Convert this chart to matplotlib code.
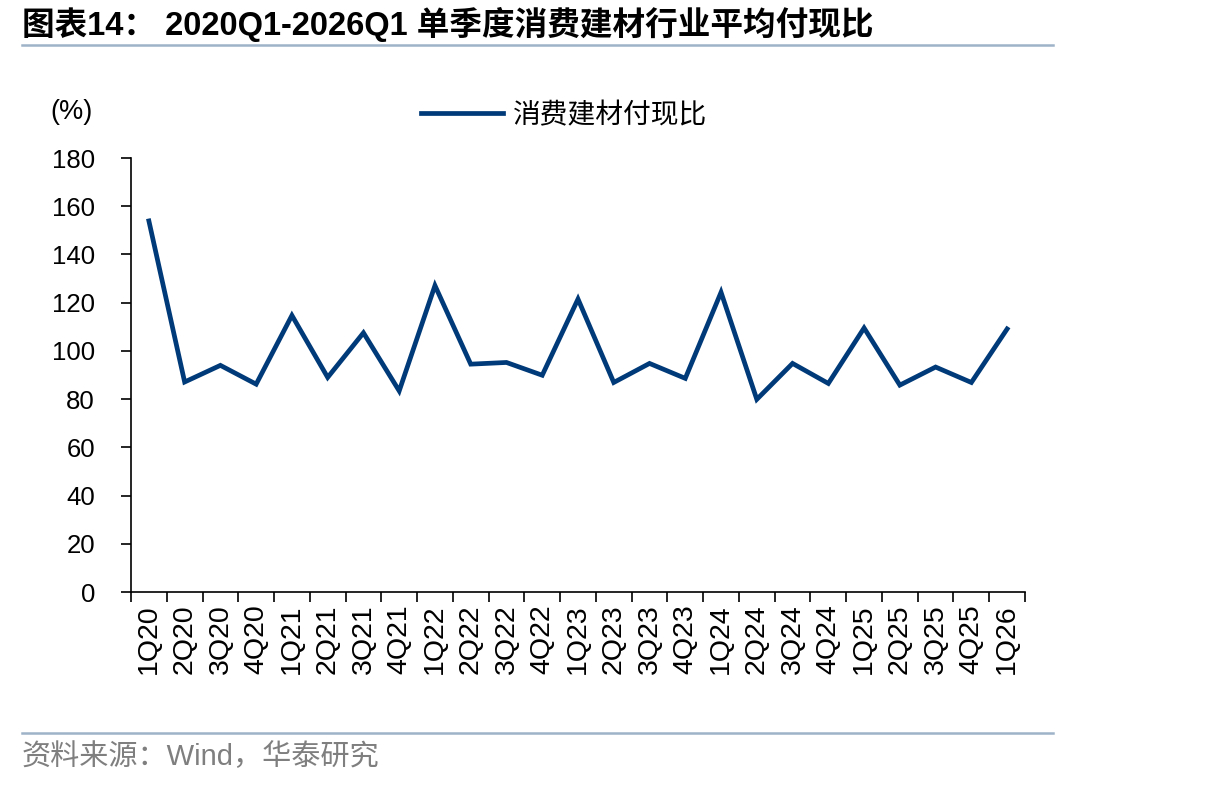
import matplotlib
matplotlib.use("Agg")
import matplotlib.pyplot as plt
import numpy as np

# 季度标签和付现比数据（%）
quarters = ["1Q20", "2Q20", "3Q20", "4Q20",
            "1Q21", "2Q21", "3Q21", "4Q21",
            "1Q22", "2Q22", "3Q22", "4Q22",
            "1Q23", "2Q23", "3Q23", "4Q23",
            "1Q24", "2Q24", "3Q24", "4Q24",
            "1Q25", "2Q25", "3Q25", "4Q25",
            "1Q26"]
cash_ratio = [153.9, 87.1, 94.0, 86.2,
              114.7, 89.0, 107.5, 83.4,
              127.1, 94.5, 95.2, 89.9,
              121.5, 86.9, 94.8, 88.6,
              124.3, 79.9, 94.8, 86.5,
              109.5, 85.8, 93.3, 86.9,
              109.1]
y_ticks = [0, 20, 40, 60, 80, 100, 120, 140, 160, 180]

plt.rcParams['font.family'] = ['Liberation Sans', 'Noto Sans CJK SC', 'DejaVu Sans']

line_color = '#003a78'
rule_color = '#9fb3c8'

fig = plt.figure(figsize=(12.06, 7.87), dpi=100)
ax = fig.add_axes([131 / 1206, 1 - 592 / 787, (1025 - 131) / 1206, (592 - 158) / 787])

x = np.arange(len(quarters))
ax.plot(x, cash_ratio, color=line_color, lw=3.4, solid_joinstyle='miter', label='消费建材付现比')

ax.set_xlim(-0.5, len(quarters) - 0.5)
ax.set_ylim(0, 180)
ax.set_yticks(y_ticks)
ax.set_xticks(x)
ax.set_xticklabels(quarters, rotation=90, fontsize=20.5)
ax.set_xticks(np.arange(len(quarters) + 1) - 0.5, minor=True)
ax.tick_params(axis='x', which='major', length=0, pad=9)
ax.tick_params(axis='x', which='minor', length=7, width=1.2, direction='out')
ax.tick_params(axis='y', length=7, width=1.2, direction='out', labelsize=18.5, pad=19)

for side in ['top', 'right']:
    ax.spines[side].set_visible(False)
for side in ['left', 'bottom']:
    ax.spines[side].set_linewidth(1.2)

# 标题、单位、图例、来源
fig.text(22 / 1206, 1 - 24 / 787, '图表14： 2020Q1-2026Q1 单季度消费建材行业平均付现比',
         fontsize=23.5, fontweight='bold', va='center', ha='left')
fig.add_artist(plt.Line2D([22 / 1206, 1053 / 1206], [1 - 45 / 787] * 2,
                          color=rule_color, lw=1.8))
fig.text(50 / 1206, 1 - 112 / 787, '(%)', fontsize=19.5, va='center', ha='left')

leg = ax.legend(loc='center', bbox_to_anchor=(564 / 1206, 1 - 116 / 787),
                bbox_transform=fig.transFigure, frameon=False, fontsize=20,
                handlelength=2.95, handletextpad=0.36)

fig.add_artist(plt.Line2D([22 / 1206, 1053 / 1206], [1 - 733 / 787] * 2,
                          color=rule_color, lw=1.8))
fig.text(22 / 1206, 1 - 757 / 787, '资料来源：Wind，华泰研究', fontsize=21,
         color='#7f7f7f', va='center', ha='left')

fig.savefig('out.png', dpi=100)
